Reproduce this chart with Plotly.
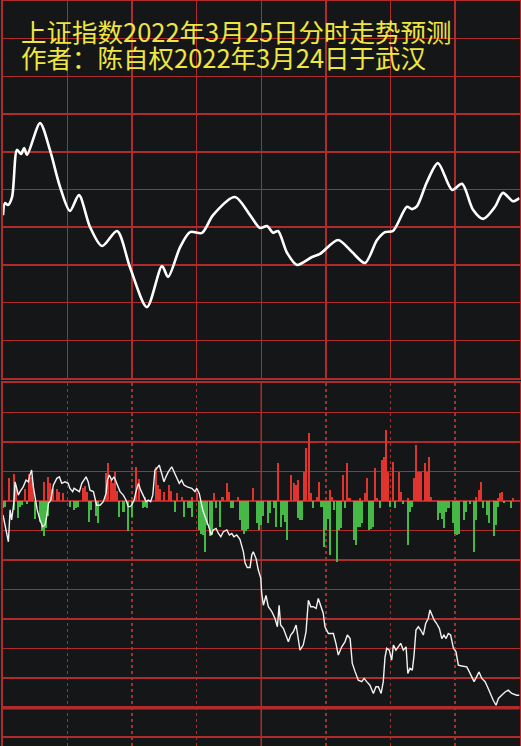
import plotly.graph_objects as go

# ---------------- text ----------------
title_line1 = "上证指数2022年3月25日分时走势预测"
title_line2 = "作者：陈自权2022年3月24日于武汉"

# ---------------- upper panel: predicted intraday curve (minute, level in grid units) ----------------
upper_t = [0, 0.9, 2.3, 4.2, 6.5, 8.4, 9.8, 11.2, 17.2, 21.8, 26.5, 31.1, 35.3, 40.4, 46.0, 53.0,
           59.0, 66.9, 73.9, 76.7, 82.3, 86.9, 92.5, 97.6, 107.8, 114.8, 119.4, 122.7, 125.5, 127.8,
           132.0, 136.6, 143.6, 147.3, 155.7, 162.2, 168.2, 173.8, 177.5, 181.2, 187.7, 190.1, 192.4,
           197.0, 202.1, 208.7, 213.3, 218.4, 223.1, 228.6, 232.3, 237.0, 240.0]
upper_v = [4.32, 4.64, 4.59, 4.80, 6.05, 5.94, 6.10, 5.92, 6.76, 6.05, 5.07, 4.43, 4.85, 4.01, 3.50, 3.90,
           2.94, 1.88, 2.97, 2.68, 3.47, 3.87, 3.85, 4.32, 4.80, 4.32, 3.98, 4.03, 3.85, 3.90,
           3.32, 3.00, 3.21, 3.29, 3.66, 3.34, 3.05, 3.66, 3.87, 3.90, 4.54, 4.48, 4.56,
           5.20, 5.70, 4.99, 5.15, 4.46, 4.22, 4.54, 4.91, 4.69, 4.77]

# ---------------- lower panel: white price line (minute, grid units) ----------------
lower_t = [0, 1.7, 2.5, 3.3, 4.0, 5.1, 5.6, 6.4, 7.1, 7.9, 9.4, 10.7, 11.8, 12.5, 13.3, 14.1, 15.3, 15.9,
           17.2, 18.4, 19.5, 20.3, 21.1, 22.2, 23.4, 25.0, 26.2, 27.3, 28.8, 30.3, 31.1, 32.4, 33.0, 34.2,
           35.5, 36.6, 37.6, 38.6, 39.6, 40.4, 42.0, 43.5, 45.1, 46.6, 47.9, 48.5, 49.4, 50.5, 51.6, 52.5,
           53.6, 54.4, 55.9, 57.2, 58.2, 59.0, 59.8, 60.9, 61.8, 62.9, 64.0, 65.2, 66.5, 67.5, 68.6, 69.6,
           70.6, 71.4, 72.6, 73.7, 74.8, 75.7, 76.8, 78.4, 79.5, 80.7, 81.9, 83.0, 84.1, 85.6, 87.7, 89.2,
           90.0, 91.2, 91.9, 92.8, 93.9, 94.9, 95.9, 96.7, 97.7, 99.0, 100.1, 101.2, 102.4, 104.0, 105.2,
           106.3, 107.3, 108.6, 110.1, 111.7, 112.5, 113.5, 114.8, 115.6, 116.3, 117.6, 118.6, 119.8,
           120.2, 121.0, 122.2, 123.3, 124.9, 126.4, 127.5, 128.3, 129.0, 130.3, 131.5, 132.6, 133.7,
           134.9, 136.2, 137.2, 138.0, 139.5, 140.8, 141.9, 143.0, 144.2, 145.5, 146.5, 147.6, 148.8,
           149.6, 151.2, 153.5, 154.7, 155.8, 157.4, 158.9, 160.0, 161.3, 162.3, 163.6, 165.1, 166.7,
           167.8, 169.0, 170.5, 172.1, 173.3, 174.4, 175.7, 176.7, 177.5, 178.3, 179.5, 180.6, 181.4,
           182.6, 183.7, 184.8, 186.0, 187.3, 188.1, 189.1, 190.2, 191.0, 191.9, 193.0, 194.1, 195.3,
           196.4, 197.6, 198.4, 199.2, 200.3, 201.5, 202.8, 203.9, 204.9, 205.9, 206.9, 208.0, 209.3,
           210.5, 211.6, 213.2, 215.5, 216.7, 217.8, 218.9, 220.1, 221.2, 222.5, 224.0, 225.1, 226.3,
           227.8, 229.1, 230.2, 231.7, 233.3, 234.8, 236.4, 238.7, 240.0]
lower_v = [-0.47, -1.10, -1.38, -0.30, -0.64, -0.02, 0.65, 0.43, 0.20, 0.32, 0.48, 0.71, 0.65, 0.88, 1.05, 0.48, -0.08, -0.30,
           -0.64, -0.87, -0.81, -0.53, -0.08, 0.03, 0.54, 0.77, 0.82, 0.60, 0.65, 0.60, 0.43, 0.32, 0.43, 0.37,
           0.32, 0.60, 0.71, 0.82, 0.65, 0.37, 0.32, -0.14, -0.14, -0.02, 0.26, 0.71, 0.88, 0.71, 0.82, 0.65,
           0.43, 0.32, 0.20, 0.03, -0.19, -0.19, -0.14, 0.03, 0.32, 0.60, 0.37, 0.20, -0.02, 0.03, -0.02, 0.20,
           1.05, 1.10, 1.22, 0.94, 0.65, 0.82, 0.99, 1.16, 0.99, 0.77, 0.60, 0.71, 0.54, 0.48, 0.43, 0.32,
           0.43, 0.26, -0.02, -0.30, -0.53, -0.70, -0.93, -1.15, -0.98, -0.93, -1.10, -1.21, -1.04, -0.98, -1.15,
           -1.10, -1.21, -1.15, -1.30, -1.72, -2.10, -2.25, -2.25, -1.83, -1.72, -1.95, -2.33, -2.62,
           -3.13, -3.53, -3.20, -3.58, -3.75, -3.98, -4.26, -3.53, -4.20, -4.32, -4.54, -4.77, -4.54,
           -4.43, -4.20, -4.60, -5.05, -4.88, -4.43, -3.36, -3.58, -3.58, -3.64, -3.30, -3.58, -3.80,
           -4.26, -4.49, -4.49, -4.82, -5.22, -4.94, -4.77, -4.54, -4.66, -5.50, -5.78, -6.07, -6.12,
           -6.01, -6.12, -6.24, -6.52, -6.29, -6.29, -6.52, -6.12, -5.30, -4.99, -5.05, -5.39, -4.88,
           -5.05, -4.94, -4.82, -5.05, -4.94, -5.84, -5.67, -5.73, -5.22, -4.37, -4.26, -4.37, -4.54,
           -4.15, -3.98, -3.69, -3.86, -4.03, -4.15, -4.32, -4.66, -4.54, -4.66, -4.49, -4.54, -4.99,
           -5.11, -5.56, -5.59, -5.62, -5.79, -5.95, -6.12, -5.95, -5.79, -6.01, -6.12, -6.29, -6.52,
           -6.75, -6.92, -6.69, -6.58, -6.47, -6.41, -6.52, -6.58, -6.58]

# ---------------- lower panel: red (up) and green (down) bars ----------------
red_t = [3, 5, 6, 10, 12, 13, 14, 19, 21, 22, 23, 25, 26, 28, 37, 38, 39, 48, 49, 50, 51, 52, 53,
         62, 63, 66, 71, 72, 73, 75, 77, 78, 81, 83, 88, 90, 98, 102, 104, 105, 109, 116,
         128, 134, 135, 136, 137, 140, 141, 142, 143, 146, 147, 152, 153, 158, 160, 161, 166, 168, 169,
         173, 174, 176, 177, 178, 179, 181, 184, 185, 188, 191, 192, 193, 194, 196, 197, 198, 199,
         220, 221, 222, 230, 231, 232, 237]
red_v = [0.77, 0.90, 0.50, 0.40, 0.90, 0.80, 0.60, 0.65, 0.80, 0.60, 0.40, 0.40, 0.30, 0.26, 0.45, 0.50, 0.30,
         0.95, 1.28, 0.70, 0.60, 1.00, 0.35,
         1.15, 0.75, 0.15, 1.15, 0.54, 0.40, 0.30, 0.54, 0.35, 0.26, 0.15, 0.15, 0.26, 0.26, 0.15, 0.60, 0.30, 0.15, 0.45,
         1.28, 0.88, 0.60, 0.54, 0.70, 1.00, 1.79, 2.29, 0.26, 0.15, 0.65, 0.37, 0.15, 0.88, 1.28, 0.09, 0.09, 0.26, 0.77,
         1.11, 0.09, 1.40, 1.50, 2.41, 1.00, 1.33, 0.99, 0.32, 0.09, 0.77, 1.90, 1.00, 1.00, 1.28, 1.00, 1.50, 0.15,
         0.15, 0.37, 0.65, 0.09, 0.26, 0.32, 0.12]
green_t = [0, 1, 5, 7, 8, 9, 11, 15, 17, 18, 19, 20, 21, 31, 33, 34, 35, 40, 41, 43, 44, 54, 56, 58,
           60, 65, 66, 67, 80, 84, 86, 87, 88, 91, 92, 93, 94, 95, 96, 97, 99, 101, 106, 107, 110, 111, 112, 113, 114, 118,
           119, 120, 121, 123, 124, 126, 127, 129, 130, 131, 132, 137, 138, 139, 144, 148, 149, 150, 151, 152,
           154, 155, 156, 157, 159, 163, 164, 165, 166, 167, 170, 171, 172, 175,
           180, 182, 186, 188, 189, 190, 202, 203, 204, 205, 206, 207, 209, 210, 211, 212, 214, 215, 217, 219, 220,
           223, 225, 226, 228, 229, 230, 233, 236]
green_v = [-0.25, -0.20, -0.30, -0.59, -0.20, -0.15, -0.10, -0.60, -0.70, -1.00, -1.20, -0.90, -0.50,
           -0.19, -0.30, -0.25, -0.20, -0.70, -0.30, -0.50, -0.76, -0.53, -0.36, -1.00,
           -0.53, -0.25, -0.19, -0.25, -0.36, -0.53, -0.25, -0.25, -0.53, -0.98, -1.10, -1.15, -1.71, -0.80, -1.20, -1.15,
           -0.25, -0.87, -0.25, -0.25, -0.64, -0.98, -1.10, -1.00, -0.93, -0.76,
           -0.98, -0.80, -0.50, -0.76, -0.40, -0.25, -0.87, -0.87, -0.47, -0.70, -1.32, -0.59, -0.64, -0.64,
           -0.25, -0.19, -1.55, -0.98, -0.60, -1.82,
           -0.30, -2.05, -0.98, -0.90, -0.25, -1.32, -1.49, -0.87, -0.87, -0.76, -0.98, -0.95, -0.87, -0.25,
           -0.19, -0.25, -0.10, -1.49, -0.36, -0.19, -0.64, -0.40, -0.60, -0.90, -0.36, -0.25, -0.76, -1.10,
           -1.15, -1.10, -0.64, -0.36, -0.10, -1.71, -0.64,
           -0.25, -0.47, -0.76, -1.20, -0.80, -0.19, -0.08, -0.25]

# ---------------- styling ----------------
BG = "#151618"
GRID = "#b02c2c"
RED = "#e2342f"
GREEN = "#46b846"
YELLOW = "#f0e640"
FONT = "Noto Sans CJK SC"

fig = go.Figure()

fig.add_trace(go.Scatter(x=upper_t, y=upper_v, mode="lines",
                         line=dict(color="#ffffff", width=2.6, shape="spline", smoothing=0.8),
                         xaxis="x", yaxis="y", hoverinfo="skip"))
fig.add_trace(go.Bar(x=red_t, y=red_v, marker=dict(color=RED, line=dict(width=0)), width=0.95,
                     xaxis="x2", yaxis="y2", hoverinfo="skip"))
fig.add_trace(go.Bar(x=green_t, y=green_v, marker=dict(color=GREEN, line=dict(width=0)), width=0.95,
                     xaxis="x2", yaxis="y2", hoverinfo="skip"))
fig.add_trace(go.Scatter(x=lower_t, y=lower_v, mode="lines",
                         line=dict(color="#f2f2f2", width=1.4),
                         xaxis="x2", yaxis="y2", hoverinfo="skip"))

W, H = 521, 746
xdom = [3 / W, 519.5 / W]

common_x = dict(range=[0, 240], showticklabels=False, ticks="", zeroline=False,
                showline=True, linecolor=GRID, linewidth=2, mirror=True,
                showgrid=True, gridcolor=GRID, gridwidth=1.5)

fig.update_layout(
    width=W, height=H,
    margin=dict(l=0, r=0, t=0, b=0),
    paper_bgcolor=BG, plot_bgcolor=BG,
    showlegend=False, barmode="overlay", bargap=0,
    xaxis=dict(domain=xdom, anchor="y", tick0=0, dtick=30, **common_x),
    yaxis=dict(domain=[1 - 378 / H, 1 - 1 / H], anchor="x", range=[0, 10], tick0=0, dtick=1,
               showticklabels=False, ticks="", zeroline=False,
               showline=True, linecolor=GRID, linewidth=2, mirror=True,
               showgrid=True, gridcolor=GRID, gridwidth=1.5),
    xaxis2=dict(domain=xdom, anchor="y2", tickmode="array",
                tickvals=[30, 60, 90, 150, 180, 210], griddash="dot", **common_x),
    yaxis2=dict(domain=[0, 1 - 383 / H], anchor="x2", range=[-8.3, 4.0], tick0=0, dtick=1,
                showticklabels=False, ticks="",
                zeroline=True, zerolinecolor=GRID, zerolinewidth=2.5,
                showline=True, linecolor=GRID, linewidth=2, mirror=True,
                showgrid=True, gridcolor=GRID, gridwidth=1.5),
    shapes=[
        dict(type="line", xref="x2", yref="y2 domain", x0=120, x1=120, y0=0, y1=1,
             line=dict(color=GRID, width=1.5), layer="below"),
        dict(type="line", xref="x2 domain", yref="y2", x0=0, x1=1, y0=-7, y1=-7,
             line=dict(color=GRID, width=3.5), layer="below"),
    ],
    annotations=[
        dict(text=title_line1, xref="paper", yref="paper", x=19 / W, y=1 - 30 / H,
             xanchor="left", yanchor="middle", showarrow=False,
             font=dict(family=FONT, size=25.5, color=YELLOW)),
        dict(text=title_line2, xref="paper", yref="paper", x=19 / W, y=1 - 56.5 / H,
             xanchor="left", yanchor="middle", showarrow=False,
             font=dict(family=FONT, size=25.5, color=YELLOW)),
    ],
)

fig.write_html("out.html",
               config={"displayModeBar": False, "staticPlot": True},
               post_script="document.body.style.margin='0';document.body.style.padding='0';"
                           "document.documentElement.style.overflow='hidden';")
